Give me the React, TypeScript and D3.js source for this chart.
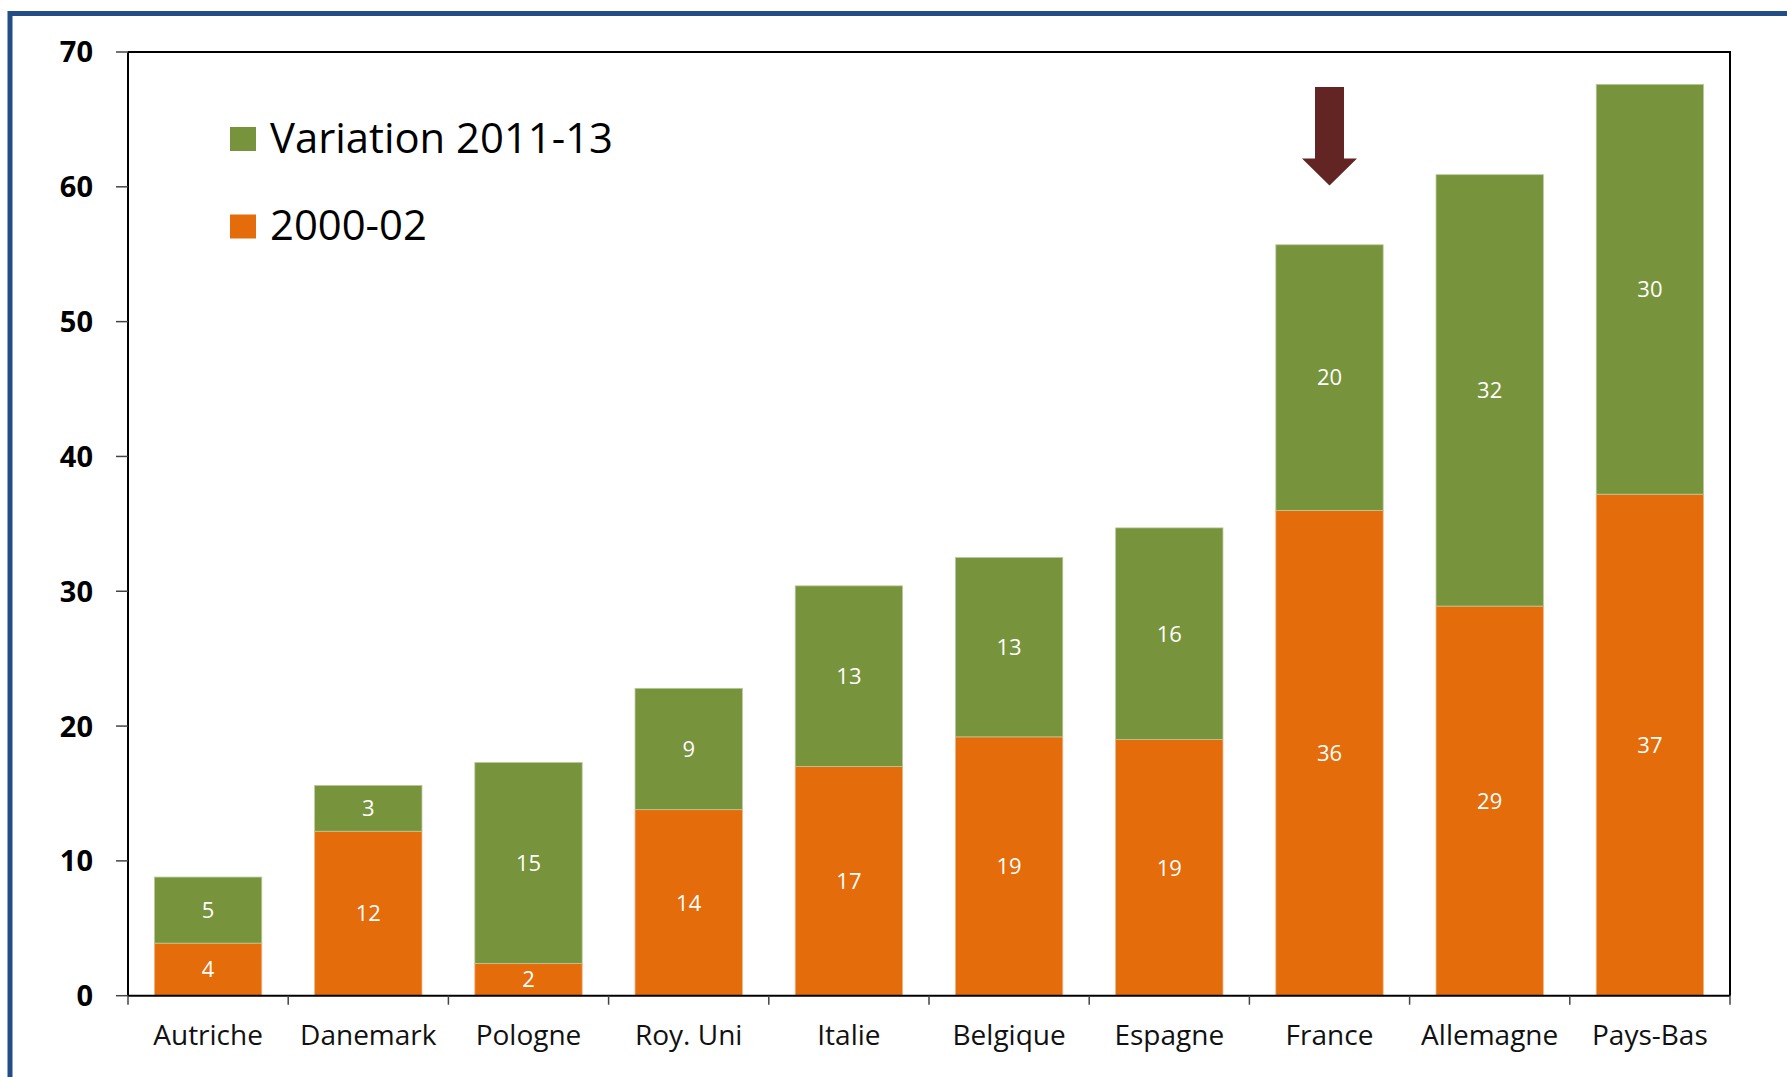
import React from "react";
import * as d3 from "d3";

const countries = ["Autriche", "Danemark", "Pologne", "Roy. Uni", "Italie", "Belgique", "Espagne", "France", "Allemagne", "Pays-Bas"];
const base2000 = [3.9, 12.2, 2.4, 13.8, 17.0, 19.2, 19.0, 36.0, 28.9, 37.2];
const variation2011 = [4.9, 3.4, 14.9, 9.0, 13.4, 13.3, 15.7, 19.7, 32.0, 30.4];
const yTicks = [0, 10, 20, 30, 40, 50, 60, 70];
const legendLabels = ["Variation 2011-13", "2000-02"];
const arrowCountry = "France";
const arrowFrom = 67.4;
const arrowTo = 60.1;

const GREEN = "#77933c";
const ORANGE = "#e46c0a";
const FONT = "'Open Sans', Lato, sans-serif";

const W = 1787;
const H = 1077;
const margin = { top: 52, right: 57, bottom: 81, left: 128 };

export default function App() {
  const x = d3
    .scaleBand<string>()
    .domain(countries)
    .range([margin.left, W - margin.right])
    .paddingInner(0.33)
    .paddingOuter(0.165);

  const y = d3
    .scaleLinear()
    .domain([0, 70])
    .range([H - margin.bottom - 0.3, margin.top]);

  const bw = x.bandwidth();
  const gap = (x.step() * x.paddingInner()) / 2;
  const bounds = countries.map((c) => (x(c) as number) - gap);
  bounds.push(W - margin.right);

  const y0 = y(0);
  const ax = (x(arrowCountry) as number) + bw / 2;
  const headStart = arrowTo + 2;
  const arrowPath = [
    [ax - 14.5, y(arrowFrom)],
    [ax + 14.5, y(arrowFrom)],
    [ax + 14.5, y(headStart)],
    [ax + 27.5, y(headStart)],
    [ax, y(arrowTo)],
    [ax - 27.5, y(headStart)],
    [ax - 14.5, y(headStart)],
  ];

  return (
    <svg
      width={W}
      height={H}
      style={{ position: "fixed", left: 0, top: 0, background: "#fff" }}
      fontFamily={FONT}
    >
      <rect x={0} y={0} width={W} height={H} fill="#fff" />
      {/* outer frame, only top and left visible */}
      <rect x={10} y={13.5} width={W + 20} height={H + 20} fill="none" stroke="#234d86" strokeWidth={5} />

      {/* bars */}
      {countries.map((c, i) => {
        const bx = x(c) as number;
        const b = base2000[i];
        const v = variation2011[i];
        return (
          <g key={c}>
            <rect x={bx} y={y(b)} width={bw} height={y0 - y(b)} fill={ORANGE} stroke="#f2b27e" strokeWidth={0.8} />
            <rect x={bx} y={y(b + v)} width={bw} height={y(b) - y(b + v)} fill={GREEN} stroke="#b9c99a" strokeWidth={0.8} />
            <text x={bx + bw / 2} y={(y(b) + y0) / 2} dy="0.36em" textAnchor="middle" fill="#fff" fontSize={22}>
              {Math.round(b)}
            </text>
            <text x={bx + bw / 2} y={(y(b + v) + y(b)) / 2} dy="0.36em" textAnchor="middle" fill="#fff" fontSize={22}>
              {Math.round(v)}
            </text>
          </g>
        );
      })}

      {/* plot frame */}
      <path
        d={`M${margin.left},${margin.top}H${W - margin.right}V${y0}`}
        fill="none"
        stroke="#000"
        strokeWidth={2}
      />
      <line x1={margin.left} x2={margin.left} y1={margin.top} y2={y0} stroke="#000" strokeWidth={2} />
      <line x1={margin.left} x2={W - margin.right} y1={y0} y2={y0} stroke="#000" strokeWidth={2} />

      {/* y axis */}
      {yTicks.map((t) => (
        <g key={t}>
          <line x1={116} x2={margin.left} y1={y(t)} y2={y(t)} stroke="#444" strokeWidth={1.5} />
          <text x={93} y={y(t)} dy="0.36em" textAnchor="end" fontWeight="bold" fontSize={29} fill="#000">
            {t}
          </text>
        </g>
      ))}

      {/* x axis */}
      {bounds.map((bx, i) => (
        <line key={i} x1={bx} x2={bx} y1={y0} y2={y0 + 9} stroke="#444" strokeWidth={1.5} />
      ))}
      {countries.map((c) => (
        <text key={c} x={(x(c) as number) + bw / 2} y={1045} textAnchor="middle" fontSize={28} fill="#111">
          {c}
        </text>
      ))}

      {/* legend */}
      {legendLabels.map((l, i) => (
        <g key={l} transform={`translate(230,${127 + i * 87.5})`}>
          <rect x={0} y={0} width={26} height={24} fill={i === 0 ? GREEN : ORANGE} />
          <text x={40} y={25.5} fontSize={41.8} fill="#000">
            {l}
          </text>
        </g>
      ))}

      {/* arrow */}
      <path d={d3.line()(arrowPath as [number, number][]) + "Z"} fill="#632523" />
    </svg>
  );
}
